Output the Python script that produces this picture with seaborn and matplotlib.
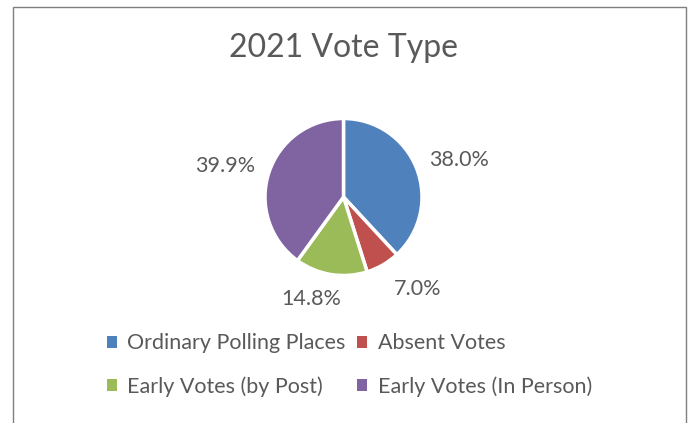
import matplotlib
matplotlib.use("Agg")
import matplotlib.pyplot as plt
import matplotlib.patches as mpatches
import seaborn as sns

# Vote share by type, 2021
categories = ["Ordinary Polling Places", "Absent Votes",
              "Early Votes (by Post)", "Early Votes (In Person)"]
shares = [38.0, 7.0, 14.8, 39.9]
title = "2021 Vote Type"

sns.set_style("white")
plt.rcParams["font.family"] = ["Lato", "DejaVu Sans"]
palette = sns.color_palette(["#4F81BD", "#C0504D", "#9BBB59", "#8064A2"])
text_color = "#595959"

W, H = 697, 423
fig = plt.figure(figsize=(W / 100, H / 100), dpi=100)
fig.patch.set_facecolor("white")

# outer frame of the chart area (open at the bottom)
frame = mpatches.Rectangle((12.5 / W, -0.1), (686 - 12.5) / W, 1.1 - 7 / H,
                           transform=fig.transFigure, fill=False,
                           edgecolor="#7f7f7f", linewidth=1.0)
fig.add_artist(frame)

# pie axes: radius 1 -> 78.5 px, centered at (343.5, 197) px from top-left
r_px = 78.5
cx, cy = 343.5, H - 197
half = 2 * r_px
ax = fig.add_axes([(cx - half) / W, (cy - half) / H, 2 * half / W, 2 * half / H])

wedges, _ = ax.pie(shares, colors=palette, startangle=90, counterclock=False,
                   wedgeprops=dict(edgecolor="white", linewidth=2.5))
ax.set_xlim(-2, 2)
ax.set_ylim(-2, 2)
ax.axis("off")

# data labels around the pie (best-fit placement)
label_xy = [(1.471, 0.471), (0.949, -1.172), (-0.414, -1.299), (-1.510, 0.395)]
for v, (x, y) in zip(shares, label_xy):
    ax.text(x, y, f"{v:.1f}%", ha="center", va="center",
            fontsize=15.5, color=text_color, clip_on=False)

fig.text(343.5 / W, 1 - 48 / H, title, ha="center", va="center",
         fontsize=23, color=text_color)

# legend laid out row by row (matplotlib fills columns first)
handles = [mpatches.Patch(facecolor=c, edgecolor="none") for c in palette]
order = [0, 2, 1, 3]
leg = fig.legend([handles[i] for i in order], [categories[i] for i in order],
                 ncol=2, loc="center",
                 bbox_to_anchor=(349.5 / W, 1 - 365 / H), frameon=False,
                 fontsize=15.5, handlelength=0.45, handleheight=0.45,
                 handletextpad=0.5, columnspacing=0.55, labelspacing=1.05,
                 labelcolor=text_color)

fig.savefig("out.png", dpi=100, facecolor="white")
